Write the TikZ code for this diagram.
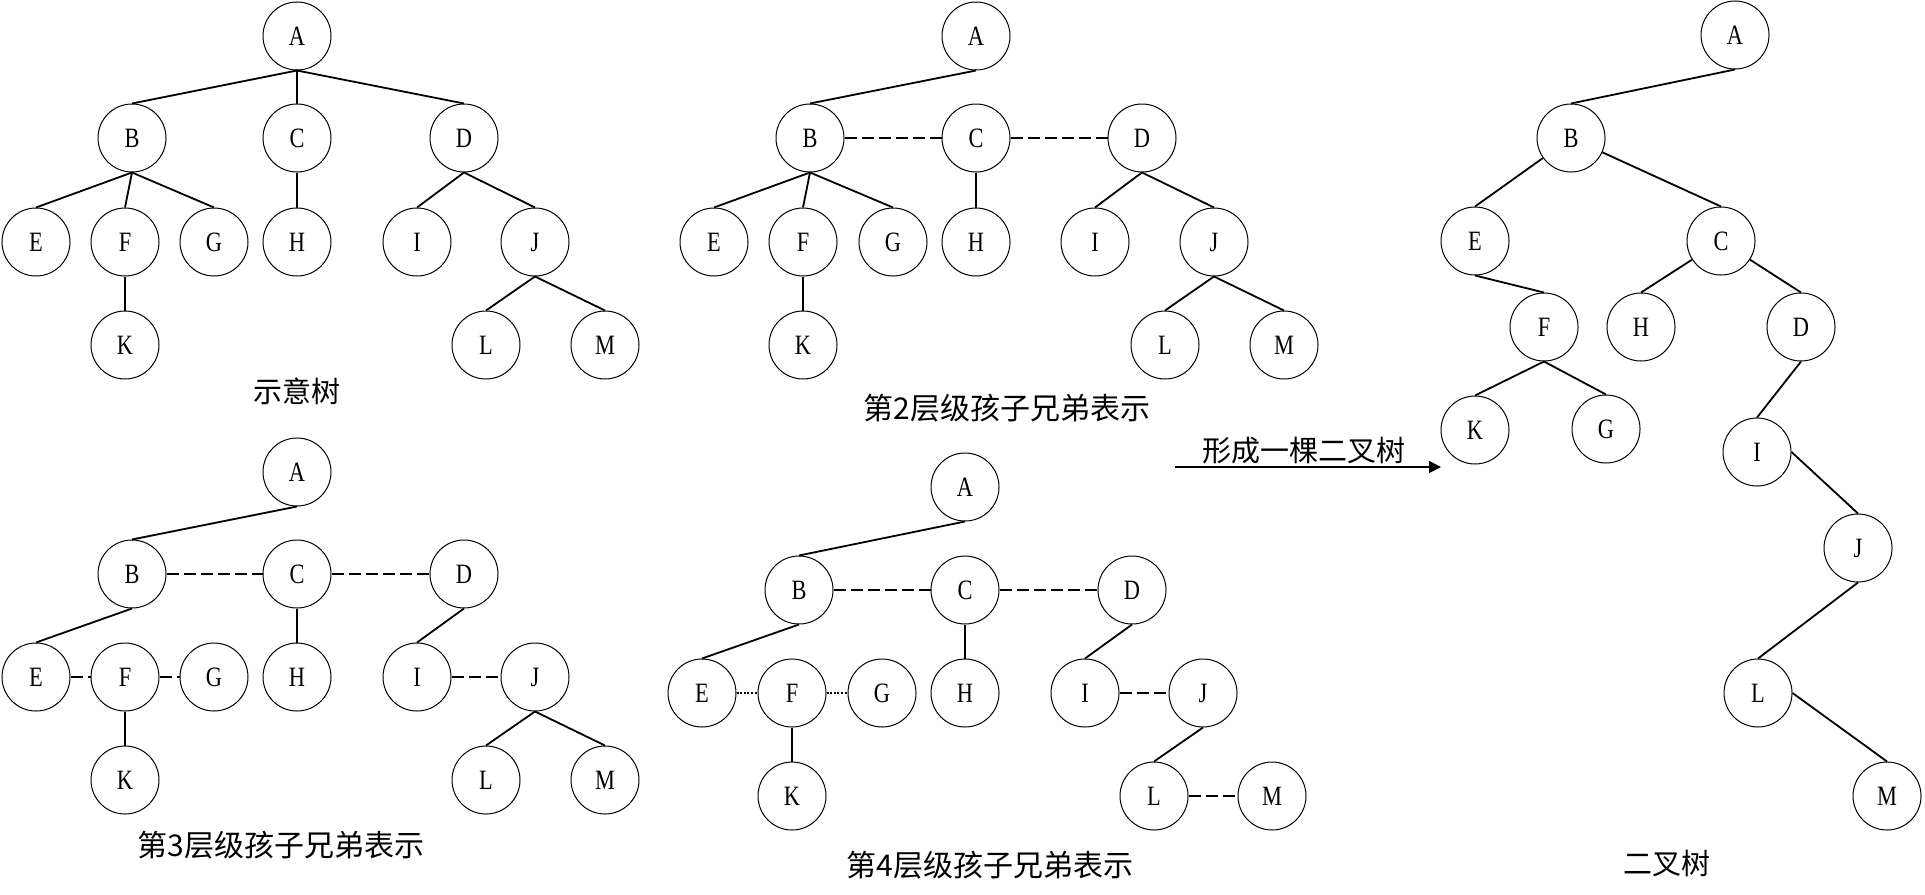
\documentclass[tikz,border=0pt]{standalone}
\usepackage{fontspec}
\setmainfont{Liberation Serif}
\newfontfamily\cjk{Noto Sans CJK SC}
\newfontfamily\letterfont{Liberation Serif}[FakeStretch=0.8]
\usetikzlibrary{arrows.meta}

\tikzset{
    vert/.style={circle, draw, line width=0.5pt, minimum size=34pt, inner sep=0pt,
        font=\letterfont\fontsize{14}{14}\selectfont},
    link/.style={line width=0.9pt},
    sibling/.style={line width=0.9pt, dash pattern=on 6pt off 2.5pt},
    dotlink/.style={line width=0.9pt, dash pattern=on 1pt off 0.8pt},
    caption/.style={font=\cjk\fontsize{14.5}{14.5}\selectfont},
    longcaption/.style={font=\cjk\fontsize{15}{15}\selectfont}
}

\begin{document}
\begin{tikzpicture}[x=0.5pt, y=-0.5pt]
    \useasboundingbox (0,0) rectangle (1925,894);

    % Tree 1: the plain tree
    \node[vert] (A1) at (297,36) {A};
    \node[vert] (B1) at (132,138) {B};
    \node[vert] (C1) at (297,138) {C};
    \node[vert] (D1) at (464,138) {D};
    \node[vert] (E1) at (36,242) {E};
    \node[vert] (F1) at (125,242) {F};
    \node[vert] (G1) at (214,242) {G};
    \node[vert] (H1) at (297,242) {H};
    \node[vert] (I1) at (417,242) {I};
    \node[vert] (J1) at (535,242) {J};
    \node[vert] (K1) at (125,345) {K};
    \node[vert] (L1) at (486,345) {L};
    \node[vert] (M1) at (605,345) {M};
    \node[caption] (cap1) at (297,391) {示意树};

    \draw[link] (A1.south) -- (B1.north);
    \draw[link] (A1.south) -- (C1.north);
    \draw[link] (A1.south) -- (D1.north);
    \draw[link] (B1.south) -- (E1.north);
    \draw[link] (B1.south) -- (F1.north);
    \draw[link] (B1.south) -- (G1.north);
    \draw[link] (C1.south) -- (H1.north);
    \draw[link] (D1.south) -- (I1.north);
    \draw[link] (D1.south) -- (J1.north);
    \draw[link] (F1.south) -- (K1.north);
    \draw[link] (J1.south) -- (L1.north);
    \draw[link] (J1.south) -- (M1.north);

    % Tree 2: level 2 siblings linked
    \node[vert] (A2) at (976,36) {A};
    \node[vert] (B2) at (810,138) {B};
    \node[vert] (C2) at (976,138) {C};
    \node[vert] (D2) at (1142,138) {D};
    \node[vert] (E2) at (714,242) {E};
    \node[vert] (F2) at (803,242) {F};
    \node[vert] (G2) at (893,242) {G};
    \node[vert] (H2) at (976,242) {H};
    \node[vert] (I2) at (1095,242) {I};
    \node[vert] (J2) at (1214,242) {J};
    \node[vert] (K2) at (803,345) {K};
    \node[vert] (L2) at (1165,345) {L};
    \node[vert] (M2) at (1284,345) {M};
    \node[longcaption] (cap2) at (1007,408) {第2层级孩子兄弟表示};

    \draw[link] (A2.south) -- (B2.north);
    \draw[sibling] (B2.east) -- (C2.west);
    \draw[sibling] (C2.east) -- (D2.west);
    \draw[link] (B2.south) -- (E2.north);
    \draw[link] (B2.south) -- (F2.north);
    \draw[link] (B2.south) -- (G2.north);
    \draw[link] (C2.south) -- (H2.north);
    \draw[link] (D2.south) -- (I2.north);
    \draw[link] (D2.south) -- (J2.north);
    \draw[link] (F2.south) -- (K2.north);
    \draw[link] (J2.south) -- (L2.north);
    \draw[link] (J2.south) -- (M2.north);

    % Tree 3: level 3 siblings linked
    \node[vert] (A3) at (297,472) {A};
    \node[vert] (B3) at (132,574) {B};
    \node[vert] (C3) at (297,574) {C};
    \node[vert] (D3) at (464,574) {D};
    \node[vert] (E3) at (36,677) {E};
    \node[vert] (F3) at (125,677) {F};
    \node[vert] (G3) at (214,677) {G};
    \node[vert] (H3) at (297,677) {H};
    \node[vert] (I3) at (417,677) {I};
    \node[vert] (J3) at (535,677) {J};
    \node[vert] (K3) at (125,780) {K};
    \node[vert] (L3) at (486,780) {L};
    \node[vert] (M3) at (605,780) {M};
    \node[longcaption] (cap3) at (281,845) {第3层级孩子兄弟表示};

    \draw[link] (A3.south) -- (B3.north);
    \draw[sibling] (B3.east) -- (C3.west);
    \draw[sibling] (C3.east) -- (D3.west);
    \draw[link] (B3.south) -- (E3.north);
    \draw[sibling] (E3.east) -- (F3.west);
    \draw[sibling] (F3.east) -- (G3.west);
    \draw[link] (C3.south) -- (H3.north);
    \draw[link] (D3.south) -- (I3.north);
    \draw[sibling] (I3.east) -- (J3.west);
    \draw[link] (F3.south) -- (K3.north);
    \draw[link] (J3.south) -- (L3.north);
    \draw[link] (J3.south) -- (M3.north);

    % Tree 4: level 4 siblings linked
    \node[vert] (A4) at (965,487) {A};
    \node[vert] (B4) at (799,590) {B};
    \node[vert] (C4) at (965,590) {C};
    \node[vert] (D4) at (1132,590) {D};
    \node[vert] (E4) at (702,693) {E};
    \node[vert] (F4) at (792,693) {F};
    \node[vert] (G4) at (882,693) {G};
    \node[vert] (H4) at (965,693) {H};
    \node[vert] (I4) at (1085,693) {I};
    \node[vert] (J4) at (1203,693) {J};
    \node[vert] (K4) at (792,796) {K};
    \node[vert] (L4) at (1154,796) {L};
    \node[vert] (M4) at (1272,796) {M};
    \node[longcaption] (cap4) at (990,865) {第4层级孩子兄弟表示};

    \draw[link] (A4.south) -- (B4.north);
    \draw[sibling] (B4.east) -- (C4.west);
    \draw[sibling] (C4.east) -- (D4.west);
    \draw[link] (B4.south) -- (E4.north);
    \draw[dotlink] (E4.east) -- (F4.west);
    \draw[dotlink] (F4.east) -- (G4.west);
    \draw[link] (C4.south) -- (H4.north);
    \draw[link] (D4.south) -- (I4.north);
    \draw[sibling] (I4.east) -- (J4.west);
    \draw[link] (F4.south) -- (K4.north);
    \draw[link] (J4.south) -- (L4.north);
    \draw[sibling] (L4.east) -- (M4.west);

    % Arrow to the binary tree
    \coordinate (arrS) at (1175,467);
    \coordinate (arrE) at (1441,467);
    \draw[line width=0.8pt, -{Triangle[length=6pt, width=6pt]}] (arrS) -- (arrE)
        node[midway, above, caption, inner sep=1pt, xshift=-2pt] {形成一棵二叉树};

    % Tree 5: the binary tree
    \node[vert] (A5) at (1735,35) {A};
    \node[vert] (B5) at (1571,138) {B};
    \node[vert] (E5) at (1475,241) {E};
    \node[vert] (C5) at (1721,241) {C};
    \node[vert] (F5) at (1544,327) {F};
    \node[vert] (H5) at (1641,327) {H};
    \node[vert] (D5) at (1801,327) {D};
    \node[vert] (K5) at (1475,430) {K};
    \node[vert] (G5) at (1606,429) {G};
    \node[vert] (I5) at (1757,452) {I};
    \node[vert] (J5) at (1858,548) {J};
    \node[vert] (L5) at (1758,693) {L};
    \node[vert] (M5) at (1887,796) {M};
    \node[caption] (cap5) at (1667,863) {二叉树};

    \draw[link] (A5.south) -- (B5.north);
    \draw[link] (B5) -- (E5.north);
    \draw[link] (B5) -- (C5.north);
    \draw[link] (E5.south) -- (F5.north);
    \draw[link] (C5) -- (H5.north);
    \draw[link] (C5) -- (D5.north);
    \draw[link] (F5.south) -- (K5.north);
    \draw[link] (F5.south) -- (G5.north);
    \draw[link] (D5.south) -- (I5.north);
    \draw[link] (I5.east) -- (J5.north);
    \draw[link] (J5.south) -- (L5.north);
    \draw[link] (L5.east) -- (M5.north);
\end{tikzpicture}
\end{document}
